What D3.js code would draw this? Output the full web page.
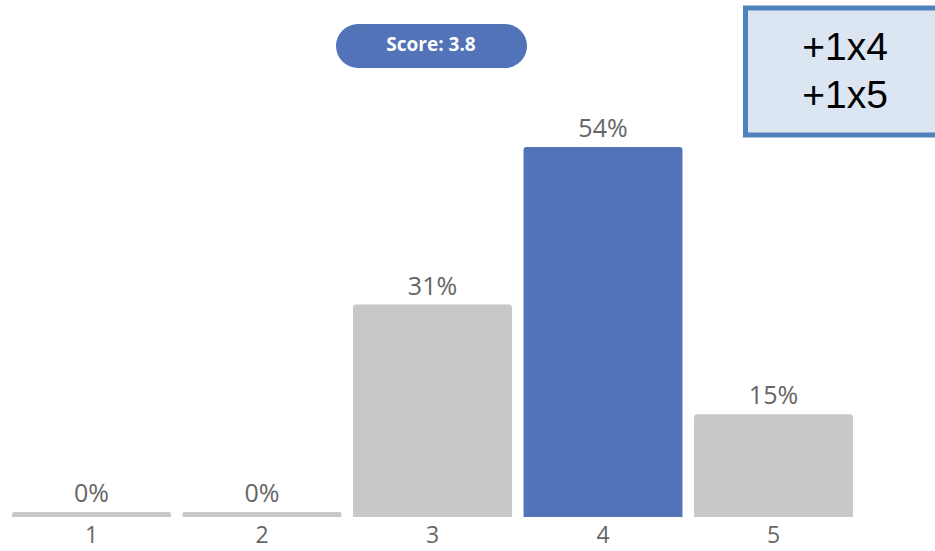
<!DOCTYPE html>
<html>
<head>
<meta charset="utf-8">
<script src="https://d3js.org/d3.v7.min.js"></script>
<style>
  body { margin: 0; background: #fff; }
</style>
</head>
<body>
<svg id="chart"></svg>
<script>
  // data
  var categories = ["1", "2", "3", "4", "5"];
  var percents = [0, 0, 31, 54, 15];
  var highlight = "4";
  var scoreText = "Score: 3.8";
  var noteLines = ["+1x4", "+1x5"];

  var W = 935, H = 551;
  var svg = d3.select("#chart").attr("width", W).attr("height", H);

  var baseY = 517;
  var x = d3.scaleBand()
    .domain(categories)
    .range([6.25, 858.75])
    .paddingInner(0.068)
    .paddingOuter(0.034);
  var y = d3.scaleLinear()
    .domain([0, 54])
    .range([baseY, 147]);

  var data = categories.map(function(c, i) { return {cat: c, val: percents[i]}; });

  // bars (0% ones still get a thin strip)
  svg.selectAll("path.bar")
    .data(data)
    .enter().append("path")
      .attr("class", "bar")
      .attr("fill", function(d) { return d.cat == highlight ? "#5373b8" : "#c8c8c8"; })
      .attr("d", function(d) {
        var x0 = x(d.cat), w = x.bandwidth();
        var top = Math.min(y(d.val), baseY - 5);
        var r = d.val > 0 ? 3 : 2;
        return "M" + x0 + "," + baseY +
          "V" + (top + r) +
          "Q" + x0 + "," + top + " " + (x0 + r) + "," + top +
          "H" + (x0 + w - r) +
          "Q" + (x0 + w) + "," + top + " " + (x0 + w) + "," + (top + r) +
          "V" + baseY + "Z";
      });

  // value labels
  svg.selectAll("text.val")
    .data(data)
    .enter().append("text")
      .attr("class", "val")
      .attr("x", function(d) { return x(d.cat) + x.bandwidth() / 2; })
      .attr("y", function(d) { return Math.min(y(d.val), baseY - 5) - 10; })
      .attr("text-anchor", "middle")
      .style("font-family", "'Open Sans', sans-serif")
      .style("font-size", "25px")
      .style("fill", "#666")
      .text(function(d) { return d.val + "%"; });

  // category axis
  var axis = svg.append("g")
    .attr("transform", "translate(0," + baseY + ")")
    .call(d3.axisBottom(x).tickSize(0));
  axis.select(".domain").remove();
  axis.selectAll("text")
    .attr("y", 26)
    .attr("dy", null)
    .style("font-family", "'Open Sans', sans-serif")
    .style("font-size", "23px")
    .style("fill", "#666");

  // score pill
  svg.append("rect")
    .attr("x", 336).attr("y", 24)
    .attr("width", 191).attr("height", 44)
    .attr("rx", 22).attr("ry", 22)
    .attr("fill", "#5373b8");
  svg.append("text")
    .attr("x", 431).attr("y", 51)
    .attr("text-anchor", "middle")
    .style("font-family", "'Open Sans', sans-serif")
    .style("font-weight", "bold")
    .style("font-size", "19px")
    .style("fill", "#fff")
    .text(scoreText);

  // note box top right
  svg.append("rect")
    .attr("x", 745.5).attr("y", 8)
    .attr("width", 200).attr("height", 127)
    .attr("fill", "#dce6f2")
    .attr("stroke", "#4f81bd")
    .attr("stroke-width", 5);
  svg.selectAll("text.note")
    .data(noteLines)
    .enter().append("text")
      .attr("class", "note")
      .attr("x", 845)
      .attr("y", function(d, i) { return 60 + i * 48; })
      .attr("text-anchor", "middle")
      .style("font-family", "'Liberation Sans', Arial, sans-serif")
      .style("font-size", "39px")
      .style("fill", "#000")
      .text(function(d) { return d; });
</script>
</body>
</html>
